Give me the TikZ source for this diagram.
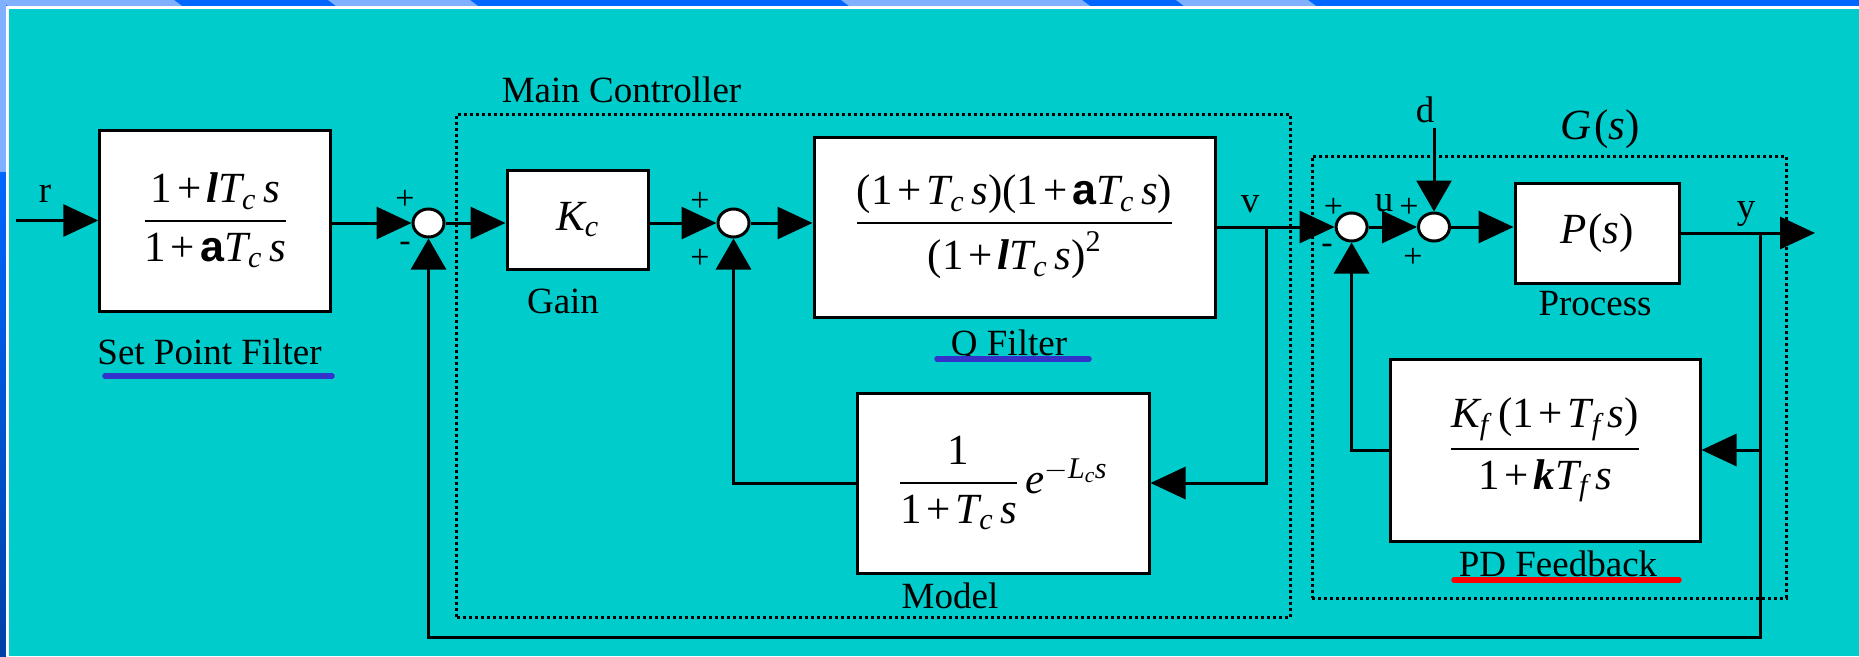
\RequirePackage{fix-cm}
\documentclass[tikz,border=0pt]{standalone}
\usepackage{amsmath}
\usepackage{fontspec}
\setmainfont{Liberation Serif}
\setsansfont{Liberation Sans}
\usetikzlibrary{arrows.meta,shapes.geometric}
\definecolor{bgteal}{RGB}{0,204,204}
\definecolor{bandblue}{RGB}{0,102,255}
\definecolor{bandlight}{RGB}{128,176,255}
\definecolor{banddark}{RGB}{0,64,165}
\definecolor{ulblue}{RGB}{51,51,204}
\definecolor{ulred}{RGB}{255,0,0}
\newcommand{\vi}[1]{\textit{#1}}
\newcommand{\bl}{\textbf{\textit{l}}}
\newcommand{\ba}{\textbf{\textsf{a}}}
\newcommand{\bk}{\textbf{\textit{k}}}
\newcommand{\Tc}{\vi{T}_{\vi{c}}\mkern3mu}
\newcommand{\Tf}{\vi{T}_{\vi{f}}\mkern3mu}
\newcommand{\pl}{\mathbin{\textup{+}}}
\newcommand{\one}{\textup{1}}
\newcommand{\lp}{\textup{(}}
\newcommand{\rp}{\textup{)}}
\newcommand{\ff}[2]{\genfrac{}{}{2.5pt}{0}{#1}{#2}}
\medmuskip=2mu plus 1mu minus 1mu
\begin{document}
\begin{tikzpicture}[x=1pt,y=-1pt,line width=3pt,
  font=\fontsize{37}{44}\selectfont,
  blk/.style={draw,fill=white,inner sep=0pt,font=\fontsize{43}{50}\selectfont},
  sumc/.style={draw,fill=white,ellipse,minimum width=31pt,minimum height=28pt,inner sep=0pt},
  harrow/.style={-{Triangle[length=35pt,width=32pt]}},
  varrow/.style={-{Triangle[length=31pt,width=35pt]}},
  lbl/.style={anchor=base,inner sep=0pt},
  sgn/.style={inner sep=0pt,font=\fontsize{34}{40}\selectfont},
  grp/.style={draw,dash pattern=on 3pt off 3pt,inner sep=0pt},
  ul/.style={line width=5.5pt,line cap=round}]

\useasboundingbox (0,0) rectangle (1859,656);
\fill[bgteal] (0,0) rectangle (1859,656);
% top band
\fill[bandblue] (0,0) rectangle (1859,6);
\foreach \a/\b in {0/174,328/470,841/1082,1176/1308}
  \fill[bandlight] (\a,0) -- (\b,0) -- (\b+8,6) -- (\a+8,6) -- cycle;
% left band
\shade[top color=bandblue,bottom color=banddark] (0,170) rectangle (6,656);
\fill[bandlight] (0,0) rectangle (6,172);
\draw[white,line width=2.5pt] (7.5,656) -- (7.5,7.5) -- (1859,7.5);

% groups
\node[grp,minimum width=833.5pt,minimum height=503pt] (mc) at (873.25,365.5) {};
\node[grp,minimum width=474pt,minimum height=442pt] (gs) at (1549,377) {};

% blocks
\node[blk,minimum width=231pt,minimum height=181pt] (spf) at (215.3,220.5)
  {$\ff{\one\pl\bl\Tc\vi{s}}{\one\pl\ba\Tc\vi{s}}$};
\node[blk,minimum width=141pt,minimum height=99pt] (kc) at (577.5,219.5)
  {$\vi{K}_{\vi{c}}$};
\node[blk,minimum width=401pt,minimum height=180pt] (q) at (1014.5,227)
  {$\ff{\lp\one\pl\Tc\vi{s}\rp\lp\one\pl\ba\Tc\vi{s}\rp}{\lp\one\pl\bl\Tc\vi{s}\rp^{\textup{2}}}$};
\node[blk,minimum width=292pt,minimum height=180pt] (model) at (1003,483)
  {$\ff{\one}{\one\pl\Tc\vi{s}}\,\vi{e}^{-\vi{L}_{\vi{c}}\vi{s}}$};
\node[blk,minimum width=164pt,minimum height=100pt] (p) at (1597,233)
  {$\vi{P}\mkern1mu\lp\vi{s}\rp$};
\node[blk,minimum width=310pt,minimum height=182pt] (pd) at (1545,450)
  {$\ff{\vi{K}_{\vi{f}}\mkern4mu\lp\one\pl\Tf\vi{s}\rp}{\one\pl\bk\Tf\vi{s}}$};

% summing junctions
\node[sumc] (s1) at (428.5,223) {};
\node[sumc] (s2) at (733.5,223) {};
\node[sumc] (s3) at (1351.6,227) {};
\node[sumc] (s4) at (1434,227) {};

% free ends and branch points
\coordinate (rin) at (16,220.5);
\coordinate (bv) at (1266.5,227);
\coordinate (by) at (1760,233);
\coordinate (bot) at (1760,637);
\coordinate (dtop) at (1434,128);
\coordinate (yout) at (1815,233);

% connectors
\draw[harrow] (rin) -- (spf.west);
\draw[harrow] (spf.east |- s1) -- (s1.west);
\draw[harrow] (s1.east) -- (kc.west |- s1);
\draw[harrow] (kc.east |- s2) -- (s2.west);
\draw[harrow] (s2.east) -- (q.west |- s2);
\draw[harrow] (q.east) -- (s3.west);
\draw[harrow] (s3.east) -- (s4.west);
\draw[harrow] (s4.east) -- (p.west |- s4);
\draw[harrow] (p.east) -- (yout);
\draw[varrow] (dtop) -- (s4.north);
\draw[harrow] (bv) |- (model.east);
\draw[varrow] (model.west) -| (s2.south);
\draw[harrow] (by) |- (pd.east);
\draw[varrow] (pd.west) -| (s3.south);
\draw[varrow] (by) -- (bot) -| (s1.south);

% labels
\node[lbl] (lr) at (45,202.7) {r};
\node[sgn] (p1a) at (405,200) {+};
\node[sgn] (m1b) at (405,247) {-};
\node[lbl] (lmc) at (621.5,102.7) {Main Controller};
\node[lbl] (lgain) at (563,313) {Gain};
\node[sgn] (p2a) at (700,202) {+};
\node[sgn] (p2b) at (700,259) {+};
\node[lbl] (lv) at (1250,212) {v};
\node[lbl] (lq) at (1009,355) {Q Filter};
\node[lbl] (lmodel) at (950,608) {Model};
\node[lbl] (lspf) at (209.5,364) {Set Point Filter};
\node[sgn] (p3a) at (1333.5,208) {+};
\node[sgn] (m3b) at (1327,249) {-};
\node[lbl] (lu) at (1384,211.7) {u};
\node[sgn] (p4a) at (1409,208) {+};
\node[sgn] (p4b) at (1413,258) {+};
\node[lbl] (ld) at (1425,122) {d};
\node[lbl,font=\fontsize{43}{50}\selectfont] (lg) at (1600,139) {$\vi{G}\mkern1mu\lp\vi{s}\rp$};
\node[lbl] (lproc) at (1595,315) {Process};
\node[lbl] (ly) at (1746,218) {y};
\node[lbl] (lpd) at (1558,576.7) {PD Feedback};

% underlines
\draw[ul,ulblue] (105,376) -- (332,376);
\draw[ul,ulblue] (937,359) -- (1089,359);
\draw[ul,ulred] (1454,580) -- (1679,580);
\end{tikzpicture}
\end{document}
